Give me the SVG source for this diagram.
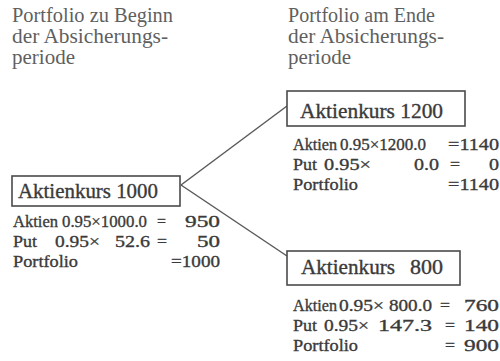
<svg xmlns="http://www.w3.org/2000/svg" width="500" height="361" viewBox="0 0 500 361">
<style>
text{font-family:"Liberation Serif","Times New Roman",Times,"Liberation Sans",serif}
.hdr{font-size:20px;fill:#5f5f5f}
.box{fill:#fff;stroke:#4a4a4a;stroke-width:1.6}
.bt{font-size:21px;fill:#3a3a3a;stroke:#3a3a3a;stroke-width:0.35}
.d{font-size:17px;fill:#3a3a3a;stroke:#3a3a3a;stroke-width:0.35}
.conn{stroke:#5a5a5a;stroke-width:1.5;fill:none}
</style>
<rect width="500" height="361" fill="#fff"/>
<g id="header-left">
<text class="hdr" x="12" y="22" textLength="161" lengthAdjust="spacingAndGlyphs">Portfolio zu Beginn</text>
<text class="hdr" x="12" y="43" textLength="156" lengthAdjust="spacingAndGlyphs">der Absicherungs-</text>
<text class="hdr" x="12" y="64" textLength="63" lengthAdjust="spacingAndGlyphs">periode</text>
</g>
<g id="header-right">
<text class="hdr" x="288" y="22" textLength="147" lengthAdjust="spacingAndGlyphs">Portfolio am Ende</text>
<text class="hdr" x="288" y="43" textLength="156" lengthAdjust="spacingAndGlyphs">der Absicherungs-</text>
<text class="hdr" x="288" y="64" textLength="63" lengthAdjust="spacingAndGlyphs">periode</text>
</g>
<g id="connectors">
<line class="conn" x1="181" y1="185" x2="287" y2="106"/>
<line class="conn" x1="181" y1="185" x2="287" y2="256"/>
</g>
<g id="node-1000">
<rect class="box" x="12" y="176" width="168" height="30"/>
<text class="bt" x="18" y="198" textLength="140" lengthAdjust="spacingAndGlyphs">Aktienkurs 1000</text>
<text class="d" y="227"><tspan x="13" textLength="45" lengthAdjust="spacingAndGlyphs">Aktien</tspan><tspan x="62" textLength="85" lengthAdjust="spacingAndGlyphs">0.95×1000.0</tspan><tspan x="157" textLength="9" lengthAdjust="spacingAndGlyphs">=</tspan><tspan x="185" textLength="35" lengthAdjust="spacingAndGlyphs">950</tspan></text>
<text class="d" y="247"><tspan x="13" textLength="24" lengthAdjust="spacingAndGlyphs">Put</tspan><tspan x="55" textLength="45" lengthAdjust="spacingAndGlyphs">0.95×</tspan><tspan x="115" textLength="35" lengthAdjust="spacingAndGlyphs">52.6</tspan><tspan x="157" textLength="10" lengthAdjust="spacingAndGlyphs">=</tspan><tspan x="197" textLength="23" lengthAdjust="spacingAndGlyphs">50</tspan></text>
<text class="d" y="267"><tspan x="13" textLength="65" lengthAdjust="spacingAndGlyphs">Portfolio</tspan><tspan x="171" textLength="49" lengthAdjust="spacingAndGlyphs">=1000</tspan></text>
</g>
<g id="node-1200">
<rect class="box" x="287" y="91" width="178" height="35"/>
<text class="bt" x="300" y="118" textLength="143" lengthAdjust="spacingAndGlyphs">Aktienkurs 1200</text>
<text class="d" y="150"><tspan x="293" textLength="44" lengthAdjust="spacingAndGlyphs">Aktien</tspan><tspan x="340" textLength="86" lengthAdjust="spacingAndGlyphs">0.95×1200.0</tspan><tspan x="448" textLength="51" lengthAdjust="spacingAndGlyphs">=1140</tspan></text>
<text class="d" y="170"><tspan x="293" textLength="24" lengthAdjust="spacingAndGlyphs">Put</tspan><tspan x="324" textLength="47" lengthAdjust="spacingAndGlyphs">0.95×</tspan><tspan x="414" textLength="25" lengthAdjust="spacingAndGlyphs">0.0</tspan><tspan x="450" textLength="10" lengthAdjust="spacingAndGlyphs">=</tspan><tspan x="489" textLength="10" lengthAdjust="spacingAndGlyphs">0</tspan></text>
<text class="d" y="190"><tspan x="293" textLength="65" lengthAdjust="spacingAndGlyphs">Portfolio</tspan><tspan x="448" textLength="51" lengthAdjust="spacingAndGlyphs">=1140</tspan></text>
</g>
<g id="node-800">
<rect class="box" x="287" y="251" width="173" height="34"/>
<text class="bt" y="274"><tspan x="301" textLength="94" lengthAdjust="spacingAndGlyphs">Aktienkurs</tspan><tspan x="410" textLength="33" lengthAdjust="spacingAndGlyphs">800</tspan></text>
<text class="d" y="311"><tspan x="293" textLength="44" lengthAdjust="spacingAndGlyphs">Aktien</tspan><tspan x="339" textLength="45" lengthAdjust="spacingAndGlyphs">0.95×</tspan><tspan x="389" textLength="43" lengthAdjust="spacingAndGlyphs">800.0</tspan><tspan x="440" textLength="10" lengthAdjust="spacingAndGlyphs">=</tspan><tspan x="464" textLength="35" lengthAdjust="spacingAndGlyphs">760</tspan></text>
<text class="d" y="331"><tspan x="293" textLength="24" lengthAdjust="spacingAndGlyphs">Put</tspan><tspan x="324" textLength="45" lengthAdjust="spacingAndGlyphs">0.95×</tspan><tspan x="378" textLength="54" lengthAdjust="spacingAndGlyphs">147.3</tspan><tspan x="445" textLength="10" lengthAdjust="spacingAndGlyphs">=</tspan><tspan x="464" textLength="35" lengthAdjust="spacingAndGlyphs">140</tspan></text>
<text class="d" y="351"><tspan x="293" textLength="65" lengthAdjust="spacingAndGlyphs">Portfolio</tspan><tspan x="445" textLength="10" lengthAdjust="spacingAndGlyphs">=</tspan><tspan x="464" textLength="35" lengthAdjust="spacingAndGlyphs">900</tspan></text>
</g>
</svg>
